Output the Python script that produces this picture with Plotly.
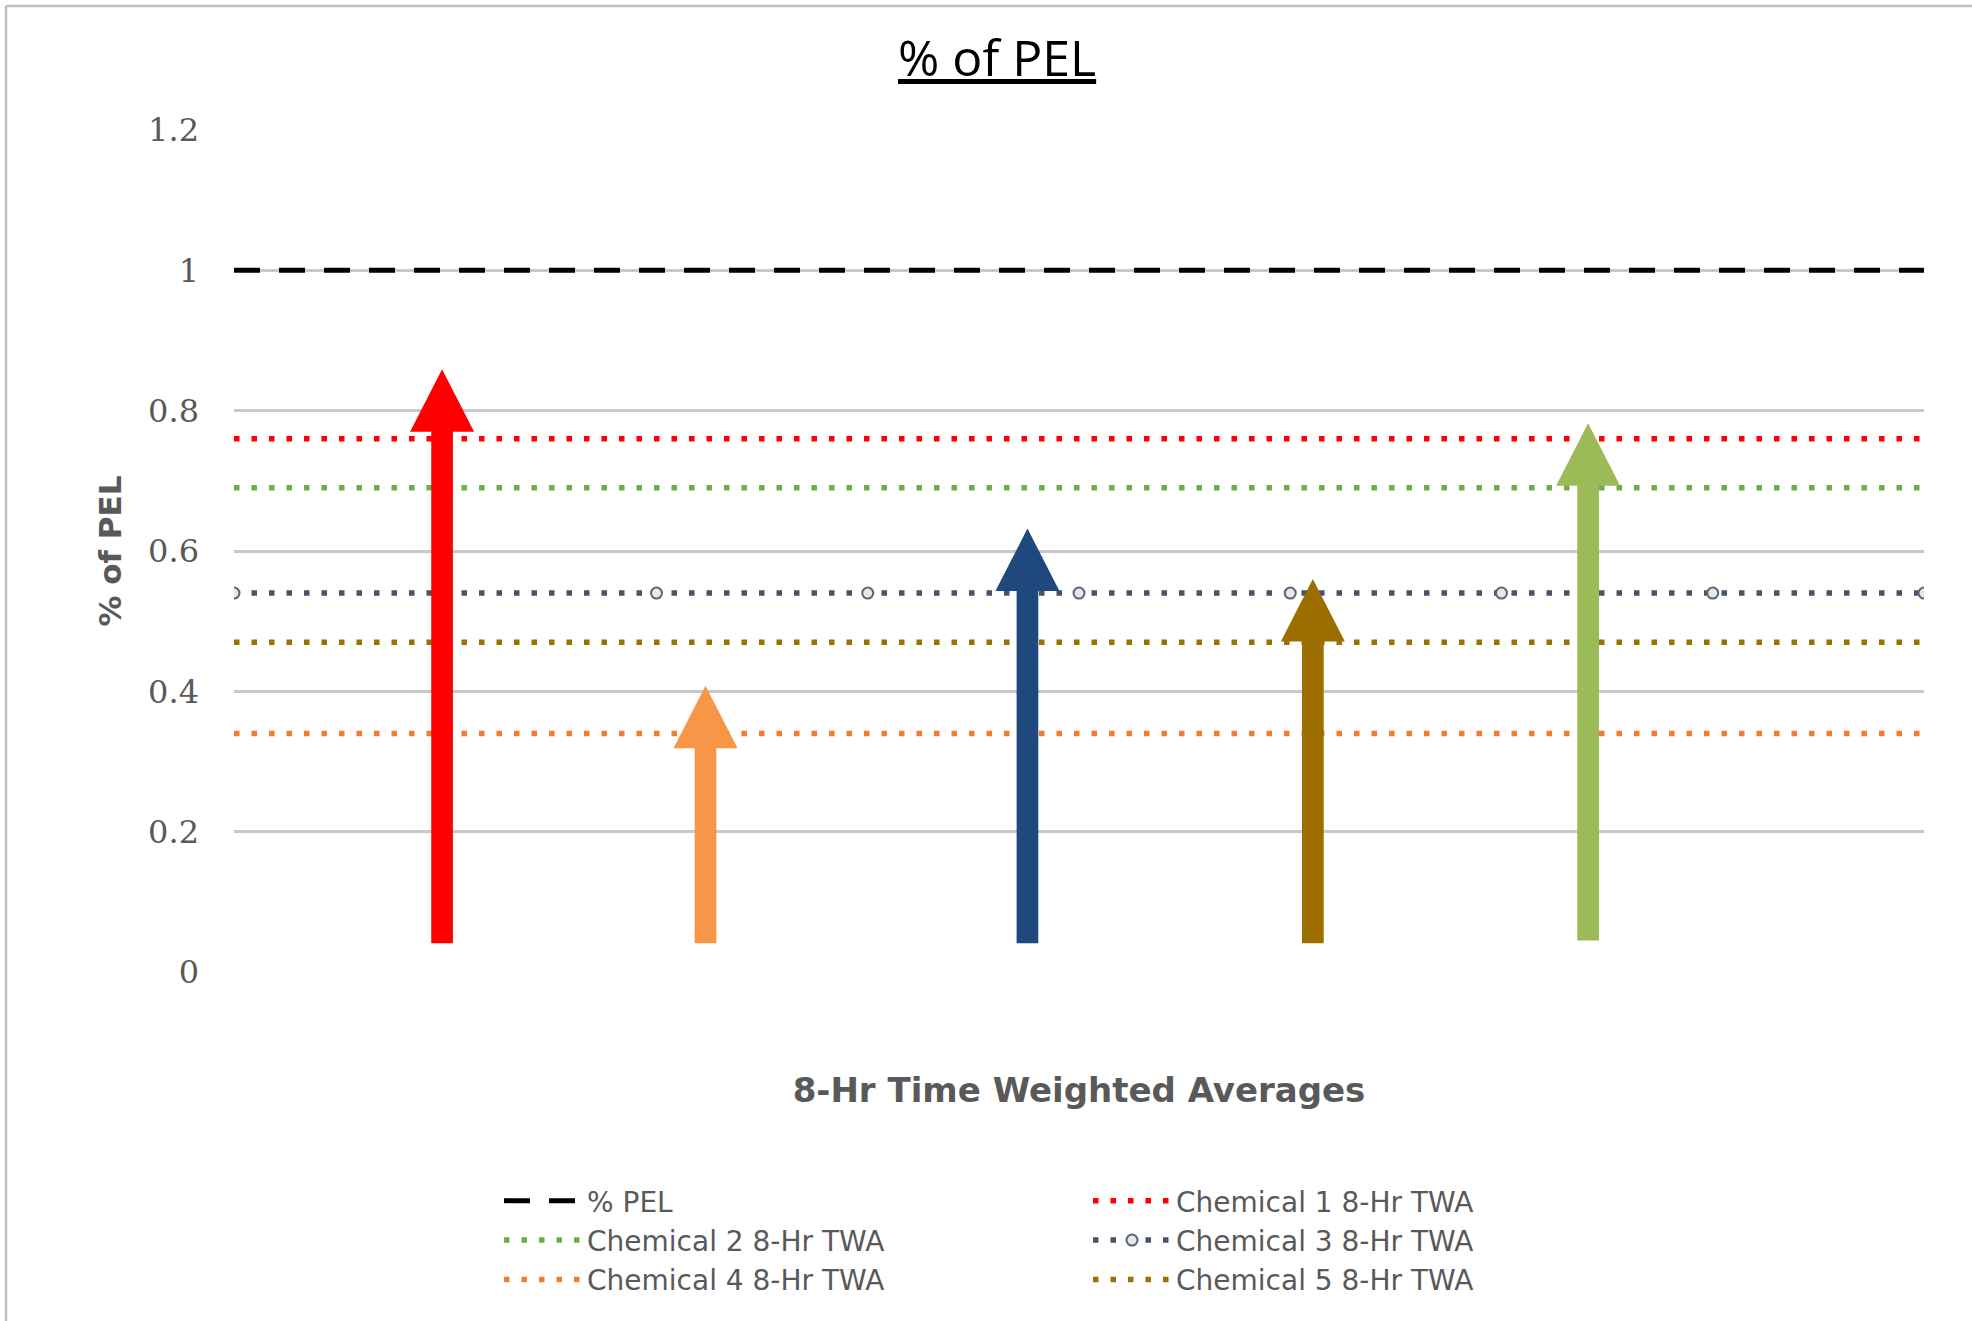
import plotly.graph_objects as go

# ---------------- data ----------------
x_points = [0, 1, 2, 3, 4, 5, 6, 7, 8]
series_names = ["% PEL", "Chemical 1 8-Hr TWA", "Chemical 2 8-Hr TWA",
                "Chemical 3 8-Hr TWA", "Chemical 4 8-Hr TWA", "Chemical 5 8-Hr TWA"]
pel_values = [1.0, 1.0, 1.0, 1.0, 1.0, 1.0, 1.0, 1.0, 1.0]
chem1_values = [0.76, 0.76, 0.76, 0.76, 0.76, 0.76, 0.76, 0.76, 0.76]
chem2_values = [0.69, 0.69, 0.69, 0.69, 0.69, 0.69, 0.69, 0.69, 0.69]
chem3_values = [0.54, 0.54, 0.54, 0.54, 0.54, 0.54, 0.54, 0.54, 0.54]
chem4_values = [0.34, 0.34, 0.34, 0.34, 0.34, 0.34, 0.34, 0.34, 0.34]
chem5_values = [0.47, 0.47, 0.47, 0.47, 0.47, 0.47, 0.47, 0.47, 0.47]

y_tick_values = [0, 0.2, 0.4, 0.6, 0.8, 1.0, 1.2]
y_tick_labels = ["0", "0.2", "0.4", "0.6", "0.8", "1", "1.2"]

# arrows (x position on category axis, base value, tip value)
arrow_x = [0.985, 2.232, 3.756, 5.107, 6.41]
arrow_base = [0.041, 0.041, 0.041, 0.041, 0.045]
arrow_tip = [0.859, 0.408, 0.632, 0.560, 0.782]
arrow_colors = ["#FF0000", "#F79646", "#1F497D", "#9C6E00", "#9BBB59"]

chart_title = "% of PEL"
x_title = "8-Hr Time Weighted Averages"
y_title = "% of PEL"

# ---------------- layout constants ----------------
W, H = 1972, 1321
ML, MR, MT, MB = 234, 48, 130, 349
PW, PH = W - ML - MR, H - MT - MB
Y_MIN, Y_MAX = 0, 1.2
X_MIN, X_MAX = 0, 8
GRAY_TXT = "#595959"

line_styles = [
    dict(color="#000000", width=5, dash="26px,19px"),
    dict(color="#FF0000", width=5.5, dash="5.5px,12px"),
    dict(color="#70AD47", width=5.5, dash="5.5px,12px"),
    dict(color="#44546A", width=5.5, dash="5.5px,12px"),
    dict(color="#ED7D31", width=5.5, dash="5.5px,12px"),
    dict(color="#997300", width=5.5, dash="5.5px,12px"),
]
series_values = [pel_values, chem1_values, chem2_values, chem3_values, chem4_values, chem5_values]

fig = go.Figure()
for i, (name, vals) in enumerate(zip(series_names, series_values)):
    if i == 3:
        fig.add_trace(go.Scatter(
            x=x_points, y=vals, name=name, mode="lines+markers",
            line=line_styles[i],
            marker=dict(symbol="circle", size=11, color="#E8E8E8",
                        line=dict(color="#5A6678", width=2)),
        ))
    else:
        fig.add_trace(go.Scatter(x=x_points, y=vals, name=name, mode="lines",
                                 line=line_styles[i]))

# arrows as shapes: shaft rect + triangle head (head in pixels, anchored at tip)
SHAFT_W = 21.7
HEAD_W = 64
HEAD_H = 62.5
head_h_data = HEAD_H / PH * (Y_MAX - Y_MIN)
shapes = []
for ax_, b, t, c in zip(arrow_x, arrow_base, arrow_tip, arrow_colors):
    shapes.append(dict(type="rect", xref="x", yref="y", xsizemode="pixel", xanchor=ax_,
                       x0=-SHAFT_W / 2, x1=SHAFT_W / 2, y0=b, y1=t - head_h_data + 0.002,
                       fillcolor=c, line=dict(width=0), layer="above"))
    shapes.append(dict(type="path", xref="x", yref="y", xsizemode="pixel", ysizemode="pixel",
                       xanchor=ax_, yanchor=t,
                       path=f"M {-HEAD_W/2} {-HEAD_H} L {HEAD_W/2} {-HEAD_H} L 0 0 Z",
                       fillcolor=c, line=dict(width=0), layer="above"))


def px_x(px):
    return (px - ML) / PW


def px_y(py):
    return (H - MB - py) / PH


# chart border (left and top edges)
shapes.append(dict(type="line", xref="paper", yref="paper",
                   x0=px_x(6), x1=px_x(W + 10), y0=px_y(6), y1=px_y(6),
                   line=dict(color="#BFBFBF", width=2.5)))
shapes.append(dict(type="line", xref="paper", yref="paper",
                   x0=px_x(6), x1=px_x(6), y0=px_y(6), y1=px_y(H + 10),
                   line=dict(color="#BFBFBF", width=2.5)))

annotations = [
    dict(text="<u>" + chart_title + "</u>", xref="paper", yref="paper",
         x=px_x(997), y=px_y(57), xanchor="center", yanchor="middle", showarrow=False,
         font=dict(family="Open Sans", size=50, color="#000000")),
]

fig.update_layout(
    width=W, height=H,
    margin=dict(l=ML, r=MR, t=MT, b=MB, pad=0),
    paper_bgcolor="#FFFFFF", plot_bgcolor="#FFFFFF",
    shapes=shapes, annotations=annotations,
    showlegend=True,
    legend=dict(orientation="h", x=px_x(499), y=px_y(1176), xanchor="left", yanchor="top",
                font=dict(family="DejaVu Sans", size=28, color=GRAY_TXT),
                itemwidth=78, entrywidth=496, tracegroupgap=0,
                bgcolor="rgba(0,0,0,0)"),
    xaxis=dict(range=[X_MIN, X_MAX], showgrid=False, zeroline=False, showline=False,
               showticklabels=False, ticks="",
               title=dict(text=f"<b>{x_title}</b>", standoff=106,
                          font=dict(family="DejaVu Sans", size=34, color=GRAY_TXT))),
    yaxis=dict(range=[Y_MIN, Y_MAX], tickvals=y_tick_values, ticktext=y_tick_labels,
               showgrid=True, gridcolor="#C8C8C8", gridwidth=2.5,
               zeroline=False, showline=False, ticks="", ticklabelstandoff=34,
               tickfont=dict(family="DejaVu Serif", size=32, color=GRAY_TXT),
               title=dict(text=f"<b>{y_title}</b>", standoff=17,
                          font=dict(family="DejaVu Sans", size=31, color=GRAY_TXT))),
)

fig.write_html("out.html", config={"displayModeBar": False},
               post_script="document.body.style.margin='0px';")
